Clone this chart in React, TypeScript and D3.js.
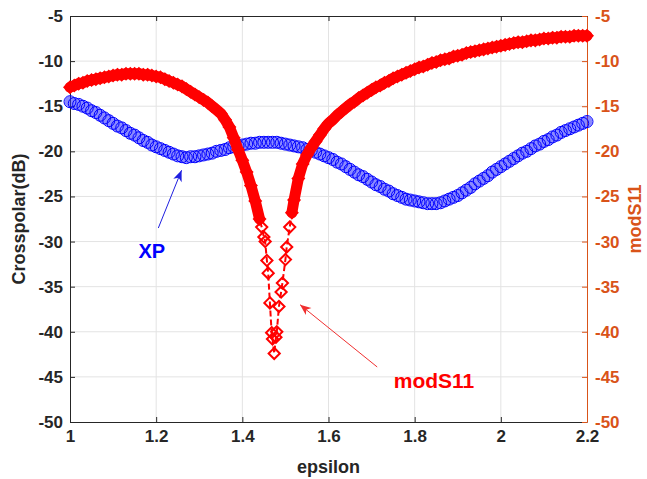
import { useEffect, useRef } from "react";
import * as d3 from "d3";

// sampling grid of the sweep (step 0.01)
const epsilon = d3.range(0, 121).map((i) => +(1 + i * 0.01).toFixed(2));

// crosspolar level (left axis)
const xpValues = [
  -14.5, -14.7, -14.8, -15.0, -15.2, -15.5, -15.7, -16.0, -16.3, -16.6,
  -16.9, -17.2, -17.4, -17.7, -18.0, -18.2, -18.5, -18.8, -19.0, -19.3,
  -19.5, -19.7, -19.9, -20.1, -20.3, -20.5, -20.6, -20.7, -20.6, -20.6,
  -20.5, -20.4, -20.3, -20.2, -20.0, -19.9, -19.8, -19.6, -19.5, -19.4,
  -19.3, -19.2, -19.1, -19.1, -19.0, -19.0, -19.0, -19.0, -19.0, -19.1,
  -19.2, -19.3, -19.4, -19.5, -19.6, -19.8, -19.9, -20.1, -20.3, -20.5,
  -20.7, -20.9, -21.2, -21.4, -21.7, -22.0, -22.3, -22.6, -22.8, -23.1,
  -23.4, -23.7, -23.9, -24.2, -24.4, -24.7, -24.9, -25.1, -25.3, -25.4,
  -25.5, -25.6, -25.7, -25.8, -25.8, -25.8, -25.7, -25.5, -25.3, -25.1,
  -24.9, -24.6, -24.3, -24.0, -23.6, -23.3, -23.0, -22.7, -22.3, -22.0,
  -21.7, -21.4, -21.1, -20.8, -20.5, -20.2, -20.0, -19.7, -19.4, -19.2,
  -18.9, -18.7, -18.4, -18.2, -17.9, -17.7, -17.5, -17.3, -17.1, -16.9,
  -16.7,
];

// |S11| in dB (right axis)
const s11Values = [
  -12.9, -12.7, -12.5, -12.4, -12.2, -12.1, -12.0, -11.9, -11.8, -11.7,
  -11.6, -11.5, -11.5, -11.4, -11.4, -11.4, -11.4, -11.5, -11.5, -11.6,
  -11.7, -11.8, -12.0, -12.2, -12.4, -12.6, -12.8, -13.1, -13.4, -13.7,
  -14.0, -14.3, -14.6, -15.0, -15.4, -15.8, -16.5, -17.3, -18.5, -19.8,
  -21.0, -22.3, -23.8, -25.5, -27.5, -29.5, -33.5, -40.8, -40.0, -35.6,
  -32.0, -28.4, -25.4, -23.0, -21.4, -20.4, -19.6, -18.9, -18.2, -17.5,
  -16.9, -16.5, -16.0, -15.6, -15.2, -14.8, -14.5, -14.1, -13.8, -13.5,
  -13.2, -12.9, -12.7, -12.4, -12.2, -11.9, -11.7, -11.5, -11.3, -11.1,
  -10.9, -10.7, -10.6, -10.4, -10.2, -10.1, -9.9, -9.8, -9.7, -9.5,
  -9.4, -9.3, -9.1, -9.0, -8.9, -8.8, -8.7, -8.6, -8.5, -8.4,
  -8.3, -8.2, -8.1, -8.0, -7.9, -7.9, -7.8, -7.7, -7.7, -7.6,
  -7.5, -7.5, -7.4, -7.4, -7.3, -7.3, -7.3, -7.2, -7.2, -7.2,
  -7.2,
];

// extra samples around the resonance
const dipEpsilon = [1.445, 1.453, 1.457, 1.464, 1.468, 1.474, 1.478, 1.485, 1.493, 1.503, 1.515];
const dipValues = [-28.4, -30.0, -32.1, -36.8, -40.1, -42.4, -40.6, -37.2, -34.6, -30.6, -26.8];

const xTicks = [1, 1.2, 1.4, 1.6, 1.8, 2, 2.2];
const yTicks = [-50, -45, -40, -35, -30, -25, -20, -15, -10, -5];

const FONT = "'Liberation Sans', Arial, sans-serif";
const RIGHT_COLOR = "#D95319";

export default function App() {
  const ref = useRef<SVGSVGElement>(null);

  function drawChart() {
    const svg = d3.select(ref.current);
    svg.selectAll("*").remove();

    const left = 70,
      right = 587,
      top = 16,
      bottom = 422;

    const x = d3.scaleLinear().domain([1, 2.2]).range([left, right]);
    const yL = d3.scaleLinear().domain([-50, -5]).range([bottom, top]);
    const yR = d3.scaleLinear().domain([-50, -5]).range([bottom, top]);

    const defs = svg.append("defs");
    const addHead = (id: string, color: string) =>
      defs
        .append("marker")
        .attr("id", id)
        .attr("viewBox", "-12 -6 14 12")
        .attr("markerWidth", 14)
        .attr("markerHeight", 12)
        .attr("markerUnits", "userSpaceOnUse")
        .attr("orient", "auto")
        .append("path")
        .attr("d", "M0,0 L-11,-4.5 L-8,0 L-11,4.5 Z")
        .attr("fill", color);
    addHead("headBlue", "#1f1fe0");
    addHead("headRed", "#f03030");

    // grid
    const grid = svg.append("g").attr("stroke", "#e3e3e3").attr("stroke-width", 1);
    grid
      .selectAll("line.vx")
      .data(xTicks.slice(1, -1))
      .enter()
      .append("line")
      .attr("x1", (d) => x(d))
      .attr("x2", (d) => x(d))
      .attr("y1", top)
      .attr("y2", bottom);
    grid
      .selectAll("line.hy")
      .data(yTicks.slice(1, -1))
      .enter()
      .append("line")
      .attr("x1", left)
      .attr("x2", right)
      .attr("y1", (d) => yL(d))
      .attr("y2", (d) => yL(d));

    // axes
    const styleAxis = (g: any, color: string) => {
      g.select(".domain").attr("stroke", color).attr("stroke-width", 1);
      g.selectAll(".tick line").attr("stroke", color);
      g.selectAll("text")
        .attr("fill", color)
        .attr("font-family", FONT)
        .attr("font-weight", "bold")
        .attr("font-size", 17);
    };

    svg
      .append("g")
      .attr("transform", `translate(0,${bottom})`)
      .call(
        d3
          .axisBottom(x)
          .tickValues(xTicks)
          .tickSizeInner(-5)
          .tickSizeOuter(0)
          .tickPadding(8)
          .tickFormat((d: any) => String(d))
      )
      .call((g: any) => styleAxis(g, "#262626"));

    svg
      .append("g")
      .attr("transform", `translate(0,${top})`)
      .call(d3.axisTop(x).tickValues(xTicks).tickSizeInner(-5).tickSizeOuter(0).tickFormat(() => ""))
      .call((g: any) => styleAxis(g, "#262626"));

    svg
      .append("g")
      .attr("transform", `translate(${left},0)`)
      .call(
        d3
          .axisLeft(yL)
          .tickValues(yTicks)
          .tickSizeInner(-5)
          .tickSizeOuter(0)
          .tickPadding(7)
          .tickFormat((d: any) => String(d))
      )
      .call((g: any) => styleAxis(g, "#262626"));

    svg
      .append("g")
      .attr("transform", `translate(${right},0)`)
      .call(
        d3
          .axisRight(yR)
          .tickValues(yTicks)
          .tickSizeInner(-5)
          .tickSizeOuter(0)
          .tickPadding(8)
          .tickFormat((d: any) => String(d))
      )
      .call((g: any) => styleAxis(g, RIGHT_COLOR));

    // axis titles
    const title = (t: string, transform: string, color: string) =>
      svg
        .append("text")
        .attr("transform", transform)
        .attr("text-anchor", "middle")
        .attr("font-family", FONT)
        .attr("font-weight", "bold")
        .attr("font-size", 18)
        .attr("fill", color)
        .text(t);
    title("epsilon", `translate(${(left + right) / 2},473)`, "#262626");
    title("Crosspolar(dB)", `translate(25,${(top + bottom) / 2}) rotate(-90)`, "#262626");
    title("modS11", `translate(641,${(top + bottom) / 2}) rotate(-90)`, RIGHT_COLOR);

    // XP series: dense circles, drawn as a band plus markers
    const xp = epsilon.map((e, i) => [e, xpValues[i]]);
    const lineL = d3
      .line<number[]>()
      .x((d) => x(d[0]))
      .y((d) => yL(d[1]));
    svg
      .append("path")
      .datum(xp)
      .attr("d", lineL)
      .attr("fill", "none")
      .attr("stroke", "#2a2aff")
      .attr("stroke-opacity", 0.55)
      .attr("stroke-width", 11)
      .attr("stroke-linecap", "round");
    svg
      .append("g")
      .selectAll("circle")
      .data(xp)
      .enter()
      .append("circle")
      .attr("cx", (d) => x(d[0]))
      .attr("cy", (d) => yL(d[1]))
      .attr("r", 6)
      .attr("fill", "none")
      .attr("stroke", "#0000ff")
      .attr("stroke-width", 1);

    // modS11 series: dashed line + diamonds
    const s11 = epsilon
      .map((e, i) => [e, s11Values[i]])
      .concat(dipEpsilon.map((e, i) => [e, dipValues[i]]))
      .sort((a, b) => a[0] - b[0]);

    const lineR = d3
      .line<number[]>()
      .x((d) => x(d[0]))
      .y((d) => yR(d[1]));

    // dense part of the sweep renders as a solid band
    svg
      .append("path")
      .datum(s11)
      .attr("d", lineR.defined((d) => d[1] > -27.6))
      .attr("fill", "none")
      .attr("stroke", "#ff0000")
      .attr("stroke-width", 11)
      .attr("stroke-linecap", "round")
      .attr("stroke-linejoin", "round");

    svg
      .append("path")
      .datum(s11)
      .attr("d", lineR.defined(() => true))
      .attr("fill", "none")
      .attr("stroke", "#ff0000")
      .attr("stroke-width", 2)
      .attr("stroke-dasharray", "6 3");

    const diamond = d3.symbol().type(d3.symbolDiamond2).size(80);
    svg
      .append("g")
      .selectAll("path")
      .data(s11)
      .enter()
      .append("path")
      .attr("transform", (d) => `translate(${x(d[0])},${yR(d[1])})`)
      .attr("d", diamond)
      .attr("fill", "none")
      .attr("stroke", "#ff0000")
      .attr("stroke-width", 2);

    // annotations
    svg
      .append("line")
      .attr("x1", x(1.205))
      .attr("y1", yL(-28.5))
      .attr("x2", x(1.259))
      .attr("y2", yL(-22.1))
      .attr("stroke", "#1f1fe0")
      .attr("stroke-width", 1)
      .attr("marker-end", "url(#headBlue)");
    svg
      .append("text")
      .attr("x", x(1.19))
      .attr("y", yL(-31.8))
      .attr("text-anchor", "middle")
      .attr("font-family", FONT)
      .attr("font-weight", "bold")
      .attr("font-size", 20)
      .attr("fill", "#0000ff")
      .text("XP");

    svg
      .append("line")
      .attr("x1", x(1.713))
      .attr("y1", yR(-43.9))
      .attr("x2", x(1.534))
      .attr("y2", yR(-37.0))
      .attr("stroke", "#f03030")
      .attr("stroke-width", 1)
      .attr("marker-end", "url(#headRed)");
    svg
      .append("text")
      .attr("x", x(1.845))
      .attr("y", yR(-46.2))
      .attr("text-anchor", "middle")
      .attr("font-family", FONT)
      .attr("font-weight", "bold")
      .attr("font-size", 21)
      .attr("fill", "#ff0000")
      .text("modS11");
  }

  useEffect(() => {
    drawChart();
  }, []);

  return (
    <>
      <style>{`body{margin:0}`}</style>
      <svg ref={ref} width="647" height="479" style={{ display: "block", background: "#fff" }}></svg>
    </>
  );
}
